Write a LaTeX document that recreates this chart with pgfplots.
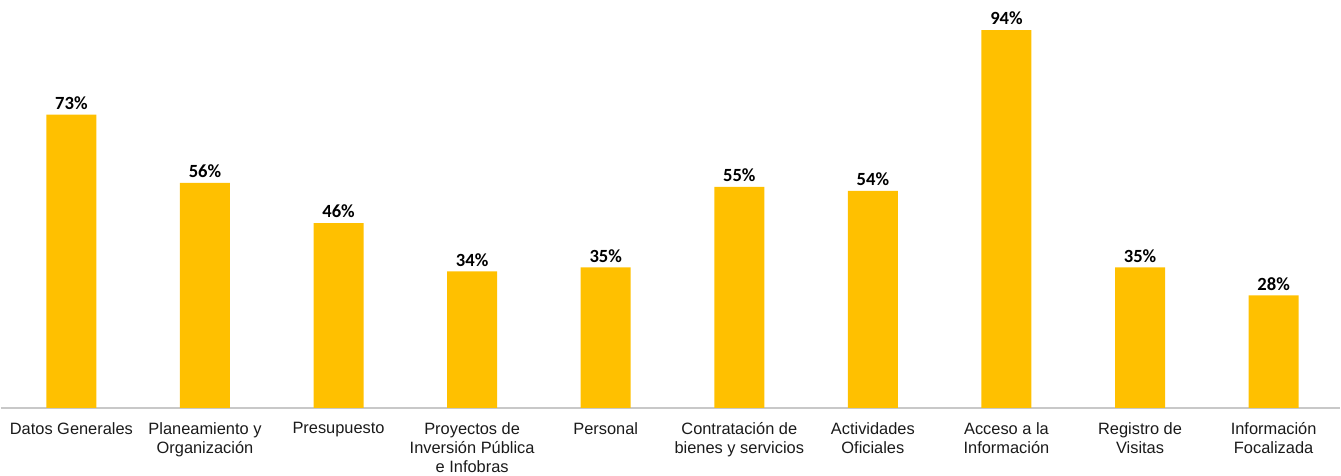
\documentclass[border=0pt]{standalone}
\usepackage{pgfplots}
\pgfplotsset{compat=1.18}
\usepackage{fontspec}
\setmainfont{Liberation Sans}
\newfontfamily\calibri{Carlito}
\definecolor{baryellow}{HTML}{FFC000}
\definecolor{axisgray}{HTML}{C8C8C8}
\definecolor{txt}{HTML}{1A1A1A}
\begin{document}
\begin{tikzpicture}
\begin{axis}[
  name=main,
  scale only axis,
  width=670pt, height=204pt,
  xmin=-0.53, xmax=9.5,
  ymin=0, ymax=101.5,
  axis x line=bottom,
  axis y line=none,
  x axis line style={draw=axisgray, line width=0.6pt, -},
  xtick=data,
  xtick style={draw=none},
  xticklabels={Datos Generales, Planeamiento y\\Organización, Presupuesto, Proyectos de\\Inversión Pública\\e Infobras, Personal, Contratación de\\bienes y servicios, Actividades\\Oficiales, Acceso a la\\Información, Registro de\\Visitas, Información\\Focalizada},
  xticklabel style={align=center, font=\fontsize{8.2}{9.5}\selectfont, text=txt, inner sep=1.5pt, yshift=-1.3pt},
  ybar,
  bar width=25pt,
  /pgf/number format/assume math mode=true,
  nodes near coords={\pgfmathprintnumber{\pgfplotspointmeta}\%},
  nodes near coords style={font=\calibri\bfseries\fontsize{9.3}{11}\selectfont, text=black, yshift=-1pt, /pgf/number format/assume math mode=true},
  clip=false,
]
\addplot[fill=baryellow, draw=none] coordinates {
(0,73) (1,56) (2,46) (3,34) (4,35) (5,55) (6,54) (7,94) (8,35) (9,28)
};
\end{axis}
\path (main.north west) (main.north east);
\end{tikzpicture}
\end{document}
